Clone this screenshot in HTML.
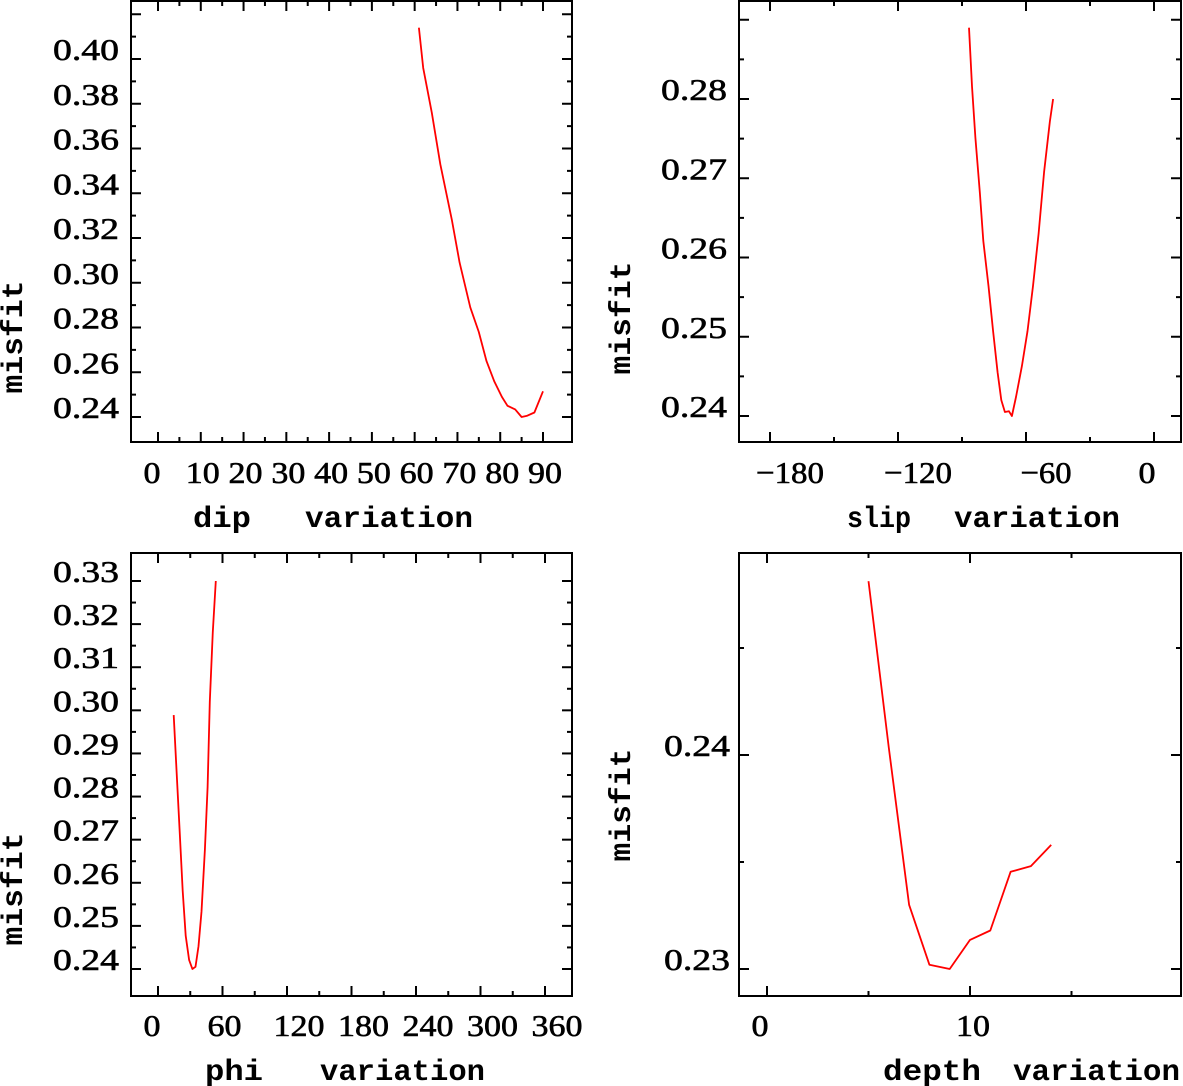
<!DOCTYPE html>
<html><head><meta charset="utf-8"><style>
html,body{margin:0;padding:0;background:#fff;}
svg{display:block;}
.tk{font-family:"Liberation Serif",serif;font-size:31px;fill:#000;stroke:#000;stroke-width:0.6px;}
.ttl{font-family:"Liberation Mono",monospace;font-weight:bold;font-size:30px;fill:#000;}
</style></head><body>
<svg id="fig" width="1183" height="1086" viewBox="0 0 1183 1086" xmlns="http://www.w3.org/2000/svg"></svg>
<script>
// ---- data ----
const dipX = [61,62,64,66,68.7,70.5,73,75,76.8,78.6,80.4,81.7,83.5,85,86.2,88,90];
const dipY = [0.414,0.396,0.376,0.353,0.328,0.309,0.289,0.278,0.265,0.256,0.249,0.245,0.2434,0.240,0.2405,0.242,0.2515];
const dipXTicks = [0,10,20,30,40,50,60,70,80,90];
const dipYTicks = [0.24,0.26,0.28,0.30,0.32,0.34,0.36,0.38,0.40];

const slipX = [-86.7,-85.3,-83.7,-81.6,-80,-77.6,-75.4,-73.3,-71.6,-69.9,-68,-66.6,-64.7,-61.9,-59.3,-56.7,-54.1,-51.5,-48.8,-47.3];
const slipY = [0.289,0.2816,0.2751,0.2681,0.2621,0.2564,0.2507,0.2455,0.242,0.2405,0.2406,0.240,0.2424,0.2463,0.2507,0.2564,0.263,0.2708,0.2772,0.280];
const slipXTicks = [-180,-120,-60,0];
const slipYTicks = [0.24,0.25,0.26,0.27,0.28];

const phiX = [14.6,17.4,20.2,23,25.8,28.9,32,34.9,37.7,40.5,43.6,46.1,48.2,51,53.8];
const phiY = [0.2989,0.2853,0.2718,0.2581,0.2477,0.2421,0.240,0.2405,0.2453,0.2533,0.2677,0.2822,0.302,0.3182,0.330];
const phiXTicks = [0,60,120,180,240,300,360];
const phiYTicks = [0.24,0.25,0.26,0.27,0.28,0.29,0.30,0.31,0.32,0.33];

const depthX = [5,6,7,8,9,10,11,12,13,14];
const depthY = [0.24812,0.24034,0.2330,0.2302,0.2300,0.23136,0.2318,0.23454,0.23481,0.2358];
const depthXTicks = [0,10];
const depthYTicks = [0.23,0.24];

// ---- rendering ----
const NS = "http://www.w3.org/2000/svg";
const svg = document.getElementById('fig');
function mk(tag, attrs, parent){
  const e = document.createElementNS(NS, tag);
  for (const k in attrs) e.setAttribute(k, attrs[k]);
  (parent||svg).appendChild(e);
  return e;
}
function lin(d0,d1,r0,r1){ return v => r0 + (v-d0)/(d1-d0)*(r1-r0); }

function panel(p){
  const g = mk('g', {});
  
  
  const sx = lin(p.xd[0],p.xd[1],p.xr[0],p.xr[1]);
  const sy = lin(p.yd[0],p.yd[1],p.yr[0],p.yr[1]);
  const [L,R,T,B] = p.box;
  const frame = mk('rect', {x:L,y:T,width:R-L,height:B-T,fill:'none',stroke:'#000','stroke-width':2}, g);
  
  
  for (let v = p.xMinorStart; v <= p.xd[1] + (p.xd[1]-p.xd[0])*2; v += p.xMinor){
    const x = sx(v);
    if (x <= L+8 || x >= R-8) continue;
    const major = Math.abs(((v - p.xMajorBase) / p.xMajor) - Math.round((v - p.xMajorBase) / p.xMajor)) < 1e-6;
    const len = major ? 10 : 5;
    const t1 = mk('line', {x1:x,x2:x,y1:B,y2:B-len,stroke:'#000','stroke-width':2}, g);
    
    
    const t2 = mk('line', {x1:x,x2:x,y1:T,y2:T+len,stroke:'#000','stroke-width':2}, g);
    
    
  }
  const ystep = p.yMinor;
  for (let k = Math.ceil((p.yd[0]-0.1)/ystep); k*ystep <= p.yd[1]+0.2; k++){
    const v = k*ystep;
    const y = sy(v);
    if (y <= T+8 || y >= B-8) continue;
    const r = v / p.yMajor;
    const major = Math.abs(r - Math.round(r)) < 1e-6;
    const len = major ? 10 : 5;
    const t1 = mk('line', {x1:L,x2:L+len,y1:y,y2:y,stroke:'#000','stroke-width':2}, g);
    
    
    const t2 = mk('line', {x1:R,x2:R-len,y1:y,y2:y,stroke:'#000','stroke-width':2}, g);
    
    
  }
  p.xTicks.forEach(v => {
    const s = (v < 0 ? '\u2212' + Math.abs(v) : String(v));
    const dx = p.xLabelDx(v, s);
    const t = mk('text', {x:sx(v)+dx, y:p.xLabelY, 'text-anchor':'middle', class:'tk',
      textLength: s.length*17, lengthAdjust:'spacingAndGlyphs'}, g);
    t.textContent = s;
    
    
  });
  p.yTicks.forEach(v => {
    const s = v.toFixed(2);
    const t = mk('text', {x:p.yLabelRight, y:sy(v)+1, 'text-anchor':'end', class:'tk',
      textLength: 66, lengthAdjust:'spacingAndGlyphs'}, g);
    t.textContent = s;
    
    
  });
  p.xTitle.forEach(w => {
    const t = mk('text', {x:w.x, y:p.xTitleY, class:'ttl', textLength:w.len, lengthAdjust:'spacingAndGlyphs'}, g);
    t.textContent = w.text;
    
    
  });
  const yt = mk('text', {x:0, y:0, class:'ttl', 'text-anchor':'middle', textLength:113, lengthAdjust:'spacingAndGlyphs',
    transform:`translate(${p.yTitle[0]},${p.yTitle[1]}) rotate(-90)`}, g);
  yt.textContent = 'misfit';
  
  
  const pts = p.xs.map((x,i) => sx(x).toFixed(1)+','+sy(p.ys[i]).toFixed(1)).join(' ');
  const line = mk('polyline', {points:pts, fill:'none', stroke:'#ff0000', 'stroke-width':1.8, 'stroke-linejoin':'round'}, g);
  
  
}

panel({name:'dip-panel', xs:dipX, ys:dipY, xTicks:dipXTicks, yTicks:dipYTicks,
  xd:[0,90], xr:[158,543], yd:[0.24,0.40], yr:[417,59], box:[131,572,1,442],
  xMinor:5, xMinorStart:-10, xMajor:10, xMajorBase:0, yMinor:0.01, yMajor:0.02,
  xLabelDx:(v,s)=> v===0?-6:2, xLabelY:483, yLabelRight:119,
  xTitle:[{text:'dip',x:193,len:58},{text:'variation',x:305,len:168}], xTitleY:527, yTitle:[22,337]});

panel({name:'slip-panel', xs:slipX, ys:slipY, xTicks:slipXTicks, yTicks:slipYTicks,
  xd:[-180,0], xr:[770,1154], yd:[0.24,0.28], yr:[416,99], box:[739,1181,1,442],
  xMinor:30, xMinorStart:-240, xMajor:60, xMajorBase:0, yMinor:0.005, yMajor:0.01,
  xLabelDx:(v,s)=> v<0?20:-7, xLabelY:483, yLabelRight:727,
  xTitle:[{text:'slip',x:847,len:64},{text:'variation',x:954,len:166}], xTitleY:527, yTitle:[630,318]});

panel({name:'phi-panel', xs:phiX, ys:phiY, xTicks:phiXTicks, yTicks:phiYTicks,
  xd:[0,360], xr:[158,545], yd:[0.24,0.33], yr:[969,581], box:[131,572,553,996],
  xMinor:30, xMinorStart:-60, xMajor:60, xMajorBase:0, yMinor:0.005, yMajor:0.01,
  xLabelDx:(v,s)=> s.length>=3?12:(v===0?-6:2), xLabelY:1036, yLabelRight:119,
  xTitle:[{text:'phi',x:205,len:58},{text:'variation',x:320,len:165}], xTitleY:1080, yTitle:[22,889]});

panel({name:'depth-panel', xs:depthX, ys:depthY, xTicks:depthXTicks, yTicks:depthYTicks,
  xd:[0,10], xr:[767,970], yd:[0.23,0.24], yr:[969,755], box:[739,1181,553,996],
  xMinor:5, xMinorStart:-5, xMajor:10, xMajorBase:0, yMinor:0.005, yMajor:0.01,
  xLabelDx:(v,s)=> v===0?-7:3, xLabelY:1036, yLabelRight:730,
  xTitle:[{text:'depth',x:883,len:98},{text:'variation',x:1013,len:167}], xTitleY:1080, yTitle:[630,805]});
</script>
</body></html>
